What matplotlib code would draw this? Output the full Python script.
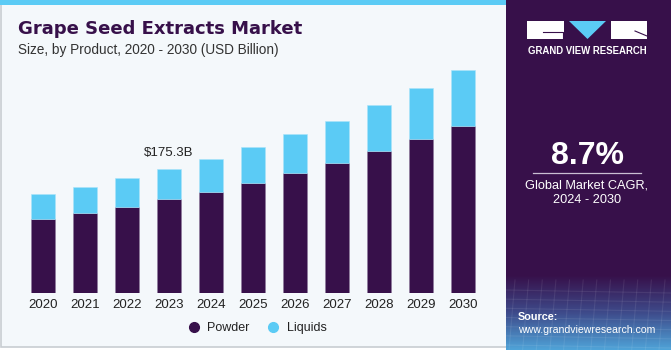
"""Grape seed extracts market chart, stacked bars by product with a side panel."""

import numpy as np
import matplotlib
matplotlib.use("Agg")
import matplotlib.pyplot as plt
from matplotlib.patches import Rectangle, FancyBboxPatch, Polygon
from matplotlib.lines import Line2D

years = ["2020", "2021", "2022", "2023", "2024", "2025", "2026", "2027", "2028", "2029", "2030"]
powder = [104.5, 112.6, 121.4, 132.7, 142.5, 155.2, 169.3, 182.9, 199.8, 216.7, 235.8]
liquids = [34.8, 37.4, 40.4, 42.6, 46.5, 51.1, 55.3, 59.1, 64.7, 71.7, 78.8]
series_names = ["Powder", "Liquids"]
highlight_year = "2023"
highlight_label = "$175.3B"

title = "Grape Seed Extracts Market"
subtitle = "Size, by Product, 2020 - 2030 (USD Billion)"
cagr = "8.7%"
cagr_text = "Global Market CAGR,\n2024 - 2030"

PURPLE = "#37104a"
BLUE = "#5bcbf5"
BG = "#f4f8fb"

plt.rcParams["font.family"] = ["Liberation Sans", "DejaVu Sans"]

W, H = 671, 350
fig = plt.figure(figsize=(W / 100, H / 100), dpi=100)
fig.patch.set_facecolor("white")

# background layer in pixel coordinates
bg = fig.add_axes([0, 0, 1, 1])
bg.set_xlim(0, W)
bg.set_ylim(H, 0)
bg.axis("off")

bg.add_patch(Rectangle((1, 1), 520, 346, facecolor=BG, edgecolor="#c8cdd2", lw=1.2))
bg.add_patch(Rectangle((0, 0), 520, 5, facecolor=BLUE, edgecolor="none"))
bg.add_patch(FancyBboxPatch((506, -10), 175, 360, boxstyle="round,pad=0,rounding_size=8",
                            facecolor=PURPLE, edgecolor="none"))

# gradient at the bottom of the side panel
grad = np.linspace(0, 1, 100).reshape(-1, 1)
cmap = matplotlib.colors.LinearSegmentedColormap.from_list("g", [PURPLE, "#3e4a8a", "#4fa3d8"])
bg.imshow(grad, extent=(506, 671, 350, 275), cmap=cmap, aspect="auto", zorder=1)
for yy in np.linspace(290, 345, 7):
    bg.plot([506, 671], [yy, yy + 3], color="white", alpha=0.08, lw=0.8, zorder=2)
for xx in np.linspace(515, 665, 12):
    bg.plot([xx, xx - 6], [280, 350], color="white", alpha=0.08, lw=0.8, zorder=2)

# logo
bg.add_patch(Rectangle((527, 21), 37, 18, facecolor="white", edgecolor="none", zorder=3))
bg.add_patch(Polygon([(569, 21), (606, 21), (587.5, 39)], closed=True, facecolor=BLUE,
                     edgecolor="none", zorder=3))
bg.add_patch(Rectangle((611, 21), 36, 18, facecolor="white", edgecolor="none", zorder=3))
bg.plot([543, 563, 563], [32, 32, 39], color=PURPLE, lw=0.8, zorder=4)
bg.plot([635, 647], [31, 36], color=PURPLE, lw=0.8, zorder=4)
bg.text(587, 51, "GRAND VIEW RESEARCH", color="white", fontsize=6.9, fontweight="bold",
        ha="center", va="center", zorder=4)

bg.text(587, 156, cagr, color="white", fontsize=23, fontweight="bold", ha="center", va="center", zorder=4)
bg.plot([533, 641], [173, 173], color="#c9bfd2", lw=0.9, zorder=4)
bg.text(587, 193, cagr_text, color="white", fontsize=9.2, ha="center", va="center",
        linespacing=1.25, zorder=4)
bg.text(518, 317, "Source:", color="white", fontsize=7.8, fontweight="bold", ha="left", va="center", zorder=4)
bg.text(518, 330, "www.grandviewresearch.com", color="white", fontsize=7.6, ha="left", va="center", zorder=4)

bg.text(18, 29, title, color=PURPLE, fontsize=13, fontweight="heavy", ha="left", va="center",
        family=["DejaVu Sans"])
bg.text(18, 50, subtitle, color="#333333", fontsize=9.8, ha="left", va="center")

# chart
ax = fig.add_axes([22 / W, (H - 293.3) / H, 462 / W, (293.3 - 60) / H])
ax.set_facecolor("none")
x = np.arange(len(years))
ax.bar(x, powder, width=0.57, color=PURPLE, edgecolor="#8d7a9b", linewidth=0.4)
ax.bar(x, liquids, width=0.57, bottom=powder, color=BLUE, edgecolor="#a9e3fa", linewidth=0.4)
ax.set_xlim(-0.5, len(years) - 0.5)
ax.set_ylim(0, 328.3)
ax.set_xticks(x)
ax.set_xticklabels(years, fontsize=9.5, color="#222222")
ax.tick_params(axis="x", length=0, pad=4)
ax.set_yticks([])
for s in ax.spines.values():
    s.set_visible(False)

i = years.index(highlight_year)
ax.annotate(highlight_label, (x[i], powder[i] + liquids[i]), xytext=(0, 11), textcoords="offset points",
            ha="center", va="center", fontsize=9.5, color="#222222")

# round legend markers
handles = [Line2D([], [], marker="o", ls="", ms=7, color=PURPLE),
           Line2D([], [], marker="o", ls="", ms=7, color=BLUE)]
ax.legend(handles, series_names, loc="center", bbox_to_anchor=(232 / 462, -0.15), ncol=2, frameon=False,
          fontsize=9, handletextpad=0.1, columnspacing=0.9, labelcolor="#222222")

fig.savefig("out.png", dpi=100)
